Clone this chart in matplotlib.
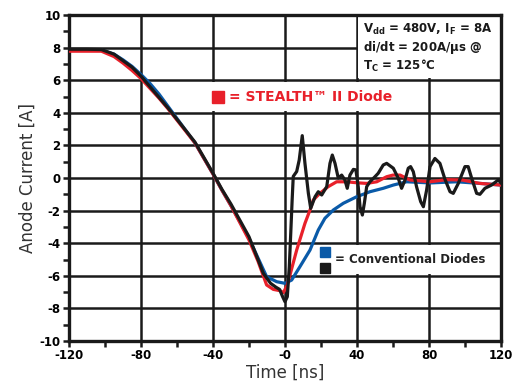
import matplotlib
matplotlib.use('Agg')
import matplotlib.pyplot as plt
from matplotlib.patches import Rectangle
from matplotlib.ticker import MultipleLocator

black_t = [-120, -110, -102, -95, -90, -85, -80, -75, -70, -65, -60, -55, -50, -45,
           -40, -35, -30, -25, -20, -15, -12, -8, -5, -3, -1.3, 0, 1.3, 2.4, 3.2,
           4.0, 4.6, 6.5, 7.9, 9.6, 11.1, 13, 14.3, 16.7, 18.5, 20.4, 23.2, 25,
           26.3, 27.8, 29.6, 31.5, 33.3, 34.6, 36.1, 38, 39.4, 40.7, 41.7, 43,
           44.1, 45.4, 47.2, 50, 51.8, 54.6, 56.5, 60.2, 62.9, 64.8, 66.7, 68.5,
           69.8, 71.3, 73.1, 75.4, 76.9, 78.7, 80.6, 83.3, 86.1, 88.9, 91.7, 93.5,
           96.3, 100, 101.8, 103.7, 106.5, 108.3, 111.1, 114.8, 118.5, 120]
black_i = [7.9, 7.9, 7.88, 7.6, 7.2, 6.8, 6.25, 5.6, 4.95, 4.3, 3.6, 2.9, 2.2, 1.25,
           0.3, -0.7, -1.6, -2.6, -3.6, -5.0, -5.85, -6.46, -6.7, -6.83, -7.28,
           -7.59, -7.28, -5.44, -3.4, -1.3, 0.1, 0.4, 1.1, 2.6, 0.9, -0.94, -1.86,
           -1.15, -0.84, -1.04, -0.53, 0.9, 1.41, 0.9, 0.0, 0.18, -0.12, -0.63,
           0.18, 0.53, 0.5, -0.53, -1.76, -2.27, -1.55, -0.53, -0.23, 0.08, 0.29,
           0.8, 0.9, 0.6, 0.0, -0.63, -0.12, 0.6, 0.7, 0.39, -0.53, -1.45, -1.76,
           -0.74, 0.7, 1.2, 0.9, -0.08, -0.84, -0.94, -0.33, 0.7, 0.7, 0.0, -0.94,
           -1.0, -0.63, -0.43, -0.12, -0.3]

red_t = [-120, -102, -95, -90, -85, -80, -75, -70, -65, -60, -55, -50, -45, -40,
         -35, -30, -25, -20, -15, -10.2, -6.5, -2.8, -0.9, 1.3, 6.5, 11.1, 13.9,
         15.7, 19.4, 24, 28.7, 34.3, 39.8, 45.4, 51, 56.5, 60, 64, 69.4, 80.6,
         89.8, 98.3, 108.3, 120]
red_i = [7.78, 7.78, 7.45, 7.05, 6.6, 6.1, 5.5, 4.9, 4.25, 3.55, 2.85, 2.15, 1.2,
         0.25, -0.75, -1.7, -2.75, -3.8, -5.1, -6.56, -6.83, -6.91, -7.03, -6.56,
         -4.42, -2.78, -1.96, -1.35, -0.94, -0.53, -0.23, -0.23, -0.29, -0.33,
         -0.23, 0.08, 0.18, 0.18, -0.12, -0.23, -0.1, -0.12, -0.33, -0.43]

blue_t = [-120, -102, -95, -90, -85, -80, -75, -70, -65, -60, -55, -50, -45, -40,
          -35, -30, -25, -20, -15, -10.2, -4.6, 0, 3.7, 8.3, 13.9, 18.5, 22.2,
          26.9, 32.4, 39.8, 47.2, 54.6, 60.2, 67.6, 80.6, 95.4, 108.3, 120]
blue_i = [7.85, 7.85, 7.6, 7.25, 6.85, 6.35, 5.8, 5.15, 4.4, 3.65, 2.9, 2.15, 1.2,
          0.25, -0.75, -1.7, -2.7, -3.7, -4.9, -6.05, -6.36, -6.46, -6.26, -5.44,
          -4.42, -3.19, -2.47, -1.96, -1.55, -1.15, -0.84, -0.63, -0.43, -0.23,
          -0.3, -0.23, -0.33, -0.43]

x_ticks = [-120, -80, -40, 0, 40, 80, 120]
x_labels = ['-120', '-80', '-40', '-0', '40', '80', '120']
y_ticks = list(range(-10, 11, 2))
y_labels = [str(v) for v in y_ticks]

RED = '#e8202a'
BLUE = '#0a5aa8'
BLACK = '#1a1a1a'

plt.rcParams['mathtext.default'] = 'bf'
plt.rcParams['axes.unicode_minus'] = False

fig = plt.figure(figsize=(5.24, 3.92), dpi=100)
ax = fig.add_axes([0.1317, 0.130, 0.8243, 0.8317])

ax.set_xlim(-120, 120)
ax.set_ylim(-10, 10)
ax.set_xticks(x_ticks)
ax.set_xticklabels(x_labels)
ax.set_yticks(y_ticks)
ax.set_yticklabels(y_labels)
ax.xaxis.set_minor_locator(MultipleLocator(20))
ax.yaxis.set_minor_locator(MultipleLocator(1))
ax.grid(True, which='major', color=BLACK, linewidth=1.8)
ax.set_axisbelow(True)
for s in ax.spines.values():
    s.set_linewidth(2.4)
    s.set_color(BLACK)
ax.tick_params(which='both', direction='out', width=1.8, length=4, color=BLACK,
               pad=2, labelsize=8.5)
for lab in ax.get_xticklabels() + ax.get_yticklabels():
    lab.set_fontweight('bold')

# white label boxes that hide the grid
ax.add_patch(Rectangle((40.6, 6.12), 80, 4, facecolor='white', edgecolor='none', zorder=1))
ax.add_patch(Rectangle((-52, 4.12), 131.4, 1.76, facecolor='white', edgecolor='none', zorder=1))
ax.add_patch(Rectangle((16, -5.88), 104, 1.76, facecolor='white', edgecolor='none', zorder=1))

ax.plot(blue_t, blue_i, color=BLUE, lw=2.3, zorder=3)
ax.plot(red_t, red_i, color=RED, lw=2.3, zorder=4)
ax.plot(black_t, black_i, color=BLACK, lw=2.3, zorder=5)

ax.text(43.5, 9.1, r'V$_{dd}$ = 480V, I$_F$ = 8A', fontsize=8.5, fontweight='bold',
        color=BLACK, va='center', zorder=6)
ax.text(43.5, 8.0, r'di/dt = 200A/$\mu$s @', fontsize=8.5, fontweight='bold',
        color=BLACK, va='center', zorder=6)
ax.text(43.5, 6.85, r'T$_C$ = 125°C', fontsize=8.5, fontweight='bold',
        color=BLACK, va='center', zorder=6)

ax.plot([-37], [5.0], marker='s', markersize=9, color=RED, zorder=6)
ax.text(-31, 5.0, '= STEALTH™ II Diode', fontsize=10, fontweight='bold',
        color=RED, va='center', zorder=6)

ax.plot([22], [-4.55], marker='s', markersize=7.5, color=BLUE, zorder=6)
ax.plot([22], [-5.5], marker='s', markersize=7.5, color=BLACK, zorder=6)
ax.text(28, -5.0, '= Conventional Diodes', fontsize=8.5, fontweight='bold',
        color='#222222', va='center', zorder=6)

ax.set_xlabel('Time [ns]', fontsize=12, color='#333333', labelpad=1)
ax.set_ylabel('Anode Current [A]', fontsize=12, color='#333333', labelpad=2)

fig.savefig('out.png', dpi=100)
